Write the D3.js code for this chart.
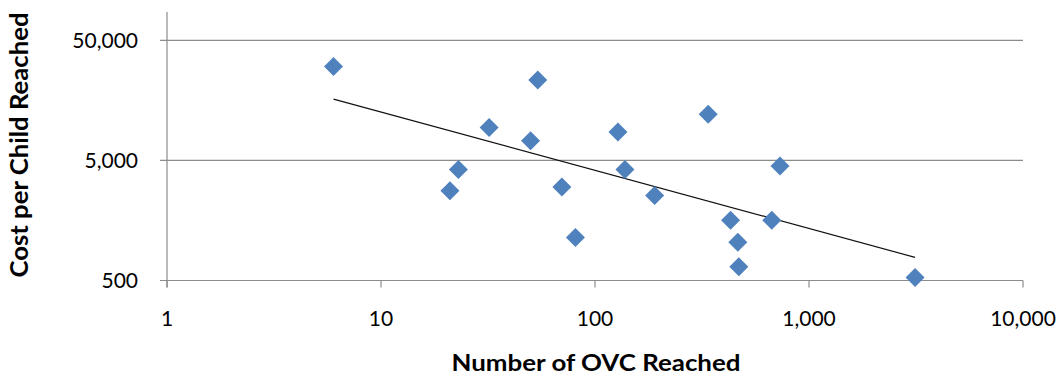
<!DOCTYPE html>
<html>
<head>
<meta charset="utf-8">
<script src="https://cdn.jsdelivr.net/npm/d3@7"></script>
<style>
  body { margin: 0; background: #fff; }
  svg { display: block; font-family: Lato, "Open Sans", sans-serif; }
</style>
</head>
<body>
<svg id="chart" width="1060" height="377"></svg>
<script>
// values
const ovcReached   = [6, 54, 32, 50, 128, 338, 23, 21, 70, 138, 190, 732, 81, 430, 670, 465, 470, 3130]
const costPerChild = [30300, 23400, 9400, 7300, 8600, 12100, 4200, 2800, 3000, 4200, 2550, 4500, 1140, 1590, 1590, 1040, 650, 530]
const xTicks = [1, 10, 100, 1000, 10000]
const yTicks = [500, 5000, 50000]

const svg = d3.select('#chart')
const plotLeft = 167, plotRight = 1023, plotTop = 12, plotBottom = 280.5

let x = d3.scaleLog().domain([1, 10000]).range([plotLeft, plotRight])
let y = d3.scaleLog().domain([500, 86000]).range([plotBottom, plotTop])

const fmt = d3.format(',')
const grey = '#8c8c8c'

// gridlines
svg.append('g')
  .selectAll('line')
  .data(yTicks)
  .enter()
  .append('line')
  .attr('x1', plotLeft - 7)
  .attr('x2', plotRight)
  .attr('y1', d => y(d))
  .attr('y2', d => y(d))
  .attr('stroke', grey)
  .attr('stroke-width', 1.2)

// y axis line
svg.append('line')
  .attr('x1', plotLeft).attr('x2', plotLeft)
  .attr('y1', plotTop).attr('y2', plotBottom + 7)
  .attr('stroke', grey)
  .attr('stroke-width', 1.2)

// x ticks
svg.append('g')
  .selectAll('line')
  .data(xTicks)
  .enter()
  .append('line')
  .attr('x1', d => x(d))
  .attr('x2', d => x(d))
  .attr('y1', plotBottom)
  .attr('y2', plotBottom + 7)
  .attr('stroke', grey)
  .attr('stroke-width', 1.2)

// tick labels
svg.append('g')
  .selectAll('text')
  .data(yTicks)
  .enter()
  .append('text')
  .attr('x', 138)
  .attr('y', d => y(d))
  .attr('dy', '0.36em')
  .attr('text-anchor', 'end')
  .attr('font-size', 21)
  .attr('fill', '#000')
  .text(d => fmt(d))

svg.append('g')
  .selectAll('text')
  .data(xTicks)
  .enter()
  .append('text')
  .attr('x', d => x(d))
  .attr('y', 326)
  .attr('text-anchor', 'middle')
  .attr('font-size', 21)
  .attr('fill', '#000')
  .text(d => fmt(d))

// power trendline (least squares in log-log space)
const lx = ovcReached.map(Math.log10)
const ly = costPerChild.map(Math.log10)
const mx = d3.mean(lx), my = d3.mean(ly)
let sxy = 0, sxx = 0
lx.forEach((v, i) => { sxy += (v - mx) * (ly[i] - my); sxx += (v - mx) * (v - mx) })
const slope = sxy / sxx
const icpt = my - slope * mx
const trend = d3.extent(ovcReached).map(v => [v, Math.pow(10, icpt + slope * Math.log10(v))])

svg.append('path')
  .attr('d', d3.line().x(d => x(d[0])).y(d => y(d[1]))(trend))
  .attr('stroke', '#111')
  .attr('stroke-width', 1.2)
  .attr('fill', 'none')

// diamonds
svg.append('g')
  .selectAll('path')
  .data(ovcReached)
  .enter()
  .append('path')
  .attr('transform', (d, i) => `translate(${x(d)},${y(costPerChild[i])})`)
  .attr('d', 'M0,-9.5L9.5,0L0,9.5L-9.5,0Z')
  .attr('fill', '#4f81bd')

// axis titles
svg.append('text')
  .attr('x', 596)
  .attr('y', 371)
  .attr('text-anchor', 'middle')
  .attr('font-size', 23)
  .attr('font-weight', 'bold')
  .attr('textLength', 289)
  .attr('lengthAdjust', 'spacingAndGlyphs')
  .text('Number of OVC Reached')

svg.append('text')
  .attr('transform', 'translate(28,145) rotate(-90)')
  .attr('text-anchor', 'middle')
  .attr('font-size', 24)
  .attr('font-weight', 'bold')
  .attr('textLength', 265)
  .attr('lengthAdjust', 'spacingAndGlyphs')
  .text('Cost per Child Reached')
</script>
</body>
</html>
